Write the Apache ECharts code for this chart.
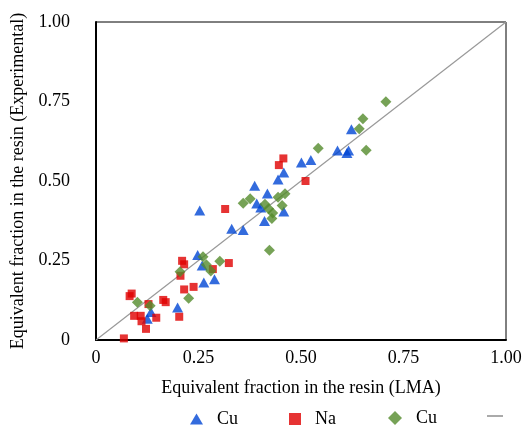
<!DOCTYPE html>
<html>
<head>
<meta charset="utf-8">
<script src="https://cdn.jsdelivr.net/npm/echarts@6/dist/echarts.min.js"></script>
<style>html,body{margin:0;padding:0;background:#fff;}#c{width:523px;height:425px;}</style>
</head>
<body>
<div id="c"></div>
<script>
// Series 1: Cu (triangles)
var cuX = [0.248,0.259,0.263,0.289,0.199,0.134,0.125,0.253,0.331,0.359,0.411,0.392,0.402,0.458,0.418,0.387,0.444,0.458,0.501,0.524,0.589,0.612,0.616,0.623];
var cuY = [0.267,0.234,0.181,0.191,0.102,0.088,0.067,0.407,0.350,0.346,0.374,0.429,0.417,0.404,0.461,0.485,0.505,0.527,0.558,0.566,0.596,0.588,0.596,0.663];
// Series 2: Na (squares)
var naX = [0.068,0.087,0.082,0.093,0.109,0.111,0.122,0.128,0.147,0.164,0.170,0.203,0.210,0.215,0.206,0.215,0.238,0.285,0.324,0.315,0.446,0.457,0.511];
var naY = [0.005,0.146,0.138,0.076,0.076,0.059,0.035,0.113,0.070,0.126,0.119,0.073,0.249,0.238,0.202,0.159,0.167,0.223,0.242,0.412,0.550,0.571,0.500];
// Series 3: Cu (diamonds)
var cu2X = [0.101,0.132,0.205,0.226,0.261,0.269,0.280,0.302,0.423,0.359,0.376,0.412,0.421,0.431,0.429,0.444,0.461,0.454,0.542,0.659,0.642,0.651,0.707];
var cu2Y = [0.119,0.108,0.215,0.131,0.262,0.237,0.217,0.248,0.282,0.430,0.444,0.427,0.413,0.399,0.382,0.449,0.460,0.423,0.603,0.597,0.664,0.696,0.749];
// 1:1 line
var lineX = [0, 1];
var lineY = [0, 1];
// Tick labels
var tickLabels = ['0', '0.25', '0.50', '0.75', '1.00'];
var legendNames = ['Cu', 'Na', 'Cu', ''];

function pairs(xs, ys) { return xs.map(function (x, i) { return [x, ys[i]]; }); }
function tickFmt(v) { return tickLabels[Math.round(v / 0.25)]; }

var FONT = 'Liberation Serif';
var FS = 18;
var chart = echarts.init(document.getElementById('c'), null, { renderer: 'canvas' });
var legendBase = { top: 410, padding: 0, itemHeight: 11, itemWidth: 13, textStyle: { fontFamily: FONT, fontSize: FS, color: '#000', padding: [0, 0, 0, 9] }, selectedMode: false };
chart.setOption({
  animation: false,
  grid: { left: 96, right: 17, top: 22, bottom: 85, containLabel: false, outerBoundsMode: 'none', show: true, borderColor: '#000', borderWidth: 1 },
  xAxis: {
    type: 'value', min: 0, max: 1, interval: 0.25,
    name: 'Equivalent fraction in the resin (LMA)', nameLocation: 'middle', nameGap: 39,
    nameTextStyle: { fontFamily: FONT, fontSize: FS, color: '#000' },
    axisLine: { lineStyle: { color: '#000', width: 2 } },
    axisTick: { show: false }, splitLine: { show: false },
    axisLabel: { formatter: tickFmt, fontFamily: FONT, fontSize: FS, color: '#000', margin: 9 }
  },
  yAxis: {
    type: 'value', min: 0, max: 1, interval: 0.25,
    name: 'Equivalent fraction in the resin (Experimental)', nameLocation: 'middle', nameGap: 69,
    nameTextStyle: { fontFamily: FONT, fontSize: FS, color: '#000' },
    axisLine: { lineStyle: { color: '#000', width: 2 } },
    axisTick: { show: false }, splitLine: { show: false },
    axisLabel: { formatter: tickFmt, fontFamily: FONT, fontSize: FS, color: '#000', margin: 26 }
  },
  legend: [
    Object.assign({}, legendBase, { left: 190, data: [{ name: 'Cu', icon: 'triangle' }], formatter: function () { return legendNames[0]; } }),
    Object.assign({}, legendBase, { left: 289, itemWidth: 12, itemHeight: 12, data: [{ name: 'Na', icon: 'rect' }], formatter: function () { return legendNames[1]; } }),
    Object.assign({}, legendBase, { left: 388, itemWidth: 14, itemHeight: 14, top: 409, data: [{ name: 'Cu2', icon: 'diamond' }], formatter: function () { return legendNames[2]; } }),
    Object.assign({}, legendBase, { left: 487, top: 415, itemWidth: 16, itemHeight: 2, data: [{ name: '1:1', icon: 'rect' }], formatter: function () { return legendNames[3]; } })
  ],
  series: [
    { name: 'Cu', type: 'scatter', symbol: 'triangle', symbolSize: [11, 10], data: pairs(cuX, cuY), itemStyle: { color: '#0046d5' } },
    { name: 'Na', type: 'scatter', symbol: 'rect', symbolSize: 8, data: pairs(naX, naY), itemStyle: { color: '#e00000' } },
    { name: 'Cu2', type: 'scatter', symbol: 'diamond', symbolSize: 11, data: pairs(cu2X, cu2Y), itemStyle: { color: '#548b2c' } },
    { name: '1:1', type: 'line', data: pairs(lineX, lineY), showSymbol: false, symbol: 'none', lineStyle: { color: '#999', width: 1.2 }, itemStyle: { color: '#aaa' }, z: 1 }
  ]
});
</script>
</body>
</html>
